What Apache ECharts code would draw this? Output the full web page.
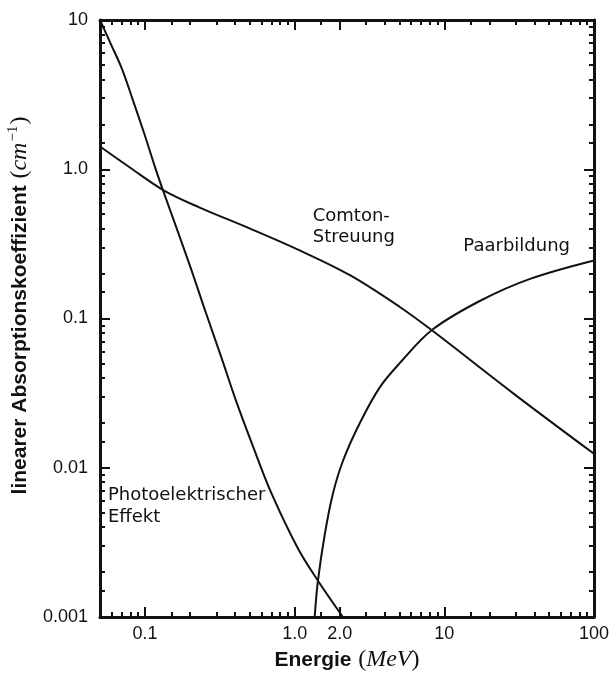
<!DOCTYPE html>
<html>
<head>
<meta charset="utf-8">
<script src="https://cdn.jsdelivr.net/npm/echarts@6/dist/echarts.min.js"></script>
<style>
  html, body { margin: 0; padding: 0; background: #ffffff; }
  #chart { width: 609px; height: 673px; }
</style>
</head>
<body>
<div id="chart"></div>
<script>
// Axis ranges: photon energy in MeV, linear attenuation coefficient in cm^-1
const xRange = [0.05, 100];
const yRange = [0.001, 10];

// Labelled ticks
const xTickValues = [0.1, 1, 2, 10, 100];
const xTickLabels = ['0.1', '1.0', '2.0', '10', '100'];
const yTickValues = [0.001, 0.01, 0.1, 1, 10];
const yTickLabels = ['0.001', '0.01', '0.1', '1.0', '10'];

// Short (minor) ticks
const xMinorTicks = [0.06, 0.07, 0.08, 0.09,
  0.15, 0.2, 0.3, 0.4, 0.5, 0.6, 0.7, 0.8, 0.9,
  1.5, 2, 3, 4, 5, 6, 7, 8, 9,
  15, 20, 30, 40, 50, 60, 70, 80, 90];
const yMinorTicks = [0.0015, 0.002, 0.003, 0.004, 0.005, 0.006, 0.007, 0.008, 0.009,
  0.015, 0.02, 0.03, 0.04, 0.05, 0.06, 0.07, 0.08, 0.09,
  0.15, 0.2, 0.3, 0.4, 0.5, 0.6, 0.7, 0.8, 0.9,
  1.5, 2, 3, 4, 5, 6, 7, 8, 9];

// Photoelectric effect
const photoEnergy = [0.05, 0.0591, 0.0702, 0.083, 0.0985, 0.1167, 0.132, 0.197, 0.256, 0.324, 0.404, 0.531, 0.701, 1.047, 1.43, 2.1];
const photoMu     = [10, 6.90, 4.69, 2.90, 1.75, 1.03, 0.72, 0.234, 0.108, 0.0547, 0.0284, 0.0136, 0.0067, 0.0029, 0.00175, 0.001];

// Compton scattering
const comptonEnergy = [0.05, 0.0805, 0.134, 0.23, 0.499, 1.08, 2.34, 5.07, 8.3, 29.0, 100];
const comptonMu     = [1.42, 1.016, 0.72, 0.556, 0.402, 0.286, 0.195, 0.119, 0.083, 0.0314, 0.0124];

// Pair production
const pairEnergy = [1.36, 1.43, 1.59, 1.80, 2.10, 2.73, 3.72, 5.07, 8.3, 17.5, 37.8, 100];
const pairMu     = [0.001, 0.00175, 0.0036, 0.0067, 0.0111, 0.0200, 0.0348, 0.0506, 0.084, 0.132, 0.185, 0.245];

const zip = (xs, ys) => xs.map((x, i) => [x, ys[i]]);

const lookup = (values, labels) => (v) => {
  for (let i = 0; i < values.length; i++) {
    if (Math.abs(Math.log10(v) - Math.log10(values[i])) < 1e-6) return labels[i];
  }
  return '';
};

const INK = '#111111';
const tickFont = { fontFamily: 'Liberation Sans', fontSize: 18, color: INK };
const noteFont = { fontFamily: 'DejaVu Sans', fontSize: 18, color: INK };
const titleRich = {
  b: { fontFamily: 'Liberation Sans', fontWeight: 'bold', fontSize: 21, color: INK },
  p: { fontFamily: 'Liberation Serif', fontSize: 24, color: INK },
  i: { fontFamily: 'Liberation Serif', fontStyle: 'italic', fontSize: 24, color: INK },
  s: { fontFamily: 'Liberation Serif', fontSize: 15, color: INK, padding: [0, 1, 14, 1] }
};

function logAxis(range, extra) {
  return Object.assign({
    type: 'log',
    logBase: 10,
    min: range[0],
    max: range[1],
    splitLine: { show: false },
    minorTick: { show: false },
    minorSplitLine: { show: false },
    axisPointer: { show: false }
  }, extra);
}

function ticks(values, len) {
  return { show: true, inside: true, length: len, customValues: values,
           lineStyle: { color: INK, width: 2 } };
}

const axisLine = { show: true, onZero: false, lineStyle: { color: INK, width: 3 } };
const noLine = { show: false, onZero: false };

const chart = echarts.init(document.getElementById('chart'), null, { renderer: 'canvas' });

chart.setOption({
  backgroundColor: '#ffffff',
  animation: false,
  grid: { left: 100, top: 20, width: 494, height: 597, containLabel: false, outerBoundsMode: 'none' },
  xAxis: [
    logAxis(xRange, {
      position: 'bottom', offset: 0,
      axisLine: axisLine,
      axisTick: ticks(xTickValues, 10),
      axisLabel: Object.assign({ customValues: xTickValues, margin: 8,
        formatter: lookup(xTickValues, xTickLabels) }, tickFont),
      name: '{b|Energie}  {p|(}{i|MeV}{p|)}',
      nameLocation: 'middle',
      nameGap: 29,
      nameTextStyle: { rich: titleRich }
    }),
    logAxis(xRange, {
      position: 'bottom', offset: 0,
      axisLine: noLine,
      axisTick: ticks(xMinorTicks, 5),
      axisLabel: { show: false }
    }),
    logAxis(xRange, {
      position: 'top', offset: 0,
      axisLine: axisLine,
      axisTick: ticks(xTickValues, 10),
      axisLabel: { show: false }
    }),
    logAxis(xRange, {
      position: 'top', offset: 0,
      axisLine: noLine,
      axisTick: ticks(xMinorTicks, 5),
      axisLabel: { show: false }
    })
  ],
  yAxis: [
    logAxis(yRange, {
      position: 'left', offset: 0,
      axisLine: axisLine,
      axisTick: ticks(yTickValues, 10),
      axisLabel: Object.assign({ customValues: yTickValues, margin: 12,
        formatter: lookup(yTickValues, yTickLabels) }, tickFont),
      name: '{b|linearer Absorptionskoeffizient}  {p|(}{i|cm}{s|−1}{p|)}',
      nameLocation: 'middle',
      nameRotate: 90,
      nameGap: 62,
      nameTextStyle: { padding: [0, 0, 0, 26], rich: titleRich }
    }),
    logAxis(yRange, {
      position: 'left', offset: 0,
      axisLine: noLine,
      axisTick: ticks(yMinorTicks, 5),
      axisLabel: { show: false }
    }),
    logAxis(yRange, {
      position: 'right', offset: 0,
      axisLine: axisLine,
      axisTick: ticks(yTickValues, 10),
      axisLabel: { show: false }
    }),
    logAxis(yRange, {
      position: 'right', offset: 0,
      axisLine: noLine,
      axisTick: ticks(yMinorTicks, 5),
      axisLabel: { show: false }
    })
  ],
  series: [
    {
      name: 'Photoelektrischer Effekt',
      type: 'line',
      xAxisIndex: 0, yAxisIndex: 0,
      data: zip(photoEnergy, photoMu),
      showSymbol: false,
      smooth: 0.35,
      lineStyle: { color: INK, width: 2 },
      markPoint: {
        symbol: 'circle', symbolSize: 0,
        data: [{ coord: [0.0565, 0.00774], value: 0 }],
        label: Object.assign({ show: true, formatter: 'Photoelektrischer\nEffekt',
          position: [0, 0], align: 'left', verticalAlign: 'top', lineHeight: 22 }, noteFont)
      }
    },
    {
      name: 'Comton-Streuung',
      type: 'line',
      xAxisIndex: 0, yAxisIndex: 0,
      data: zip(comptonEnergy, comptonMu),
      showSymbol: false,
      smooth: 0.35,
      lineStyle: { color: INK, width: 2 },
      markPoint: {
        symbol: 'circle', symbolSize: 0,
        data: [{ coord: [1.32, 0.565], value: 0 }],
        label: Object.assign({ show: true, formatter: 'Comton-\nStreuung',
          position: [0, 0], align: 'left', verticalAlign: 'top', lineHeight: 21 }, noteFont)
      }
    },
    {
      name: 'Paarbildung',
      type: 'line',
      xAxisIndex: 0, yAxisIndex: 0,
      data: zip(pairEnergy, pairMu),
      showSymbol: false,
      smooth: 0.35,
      lineStyle: { color: INK, width: 2 },
      markPoint: {
        symbol: 'circle', symbolSize: 0,
        data: [{ coord: [13.4, 0.358], value: 0 }],
        label: Object.assign({ show: true, formatter: 'Paarbildung',
          position: [0, 0], align: 'left', verticalAlign: 'top', lineHeight: 21 }, noteFont)
      }
    }
  ]
});
</script>
</body>
</html>
